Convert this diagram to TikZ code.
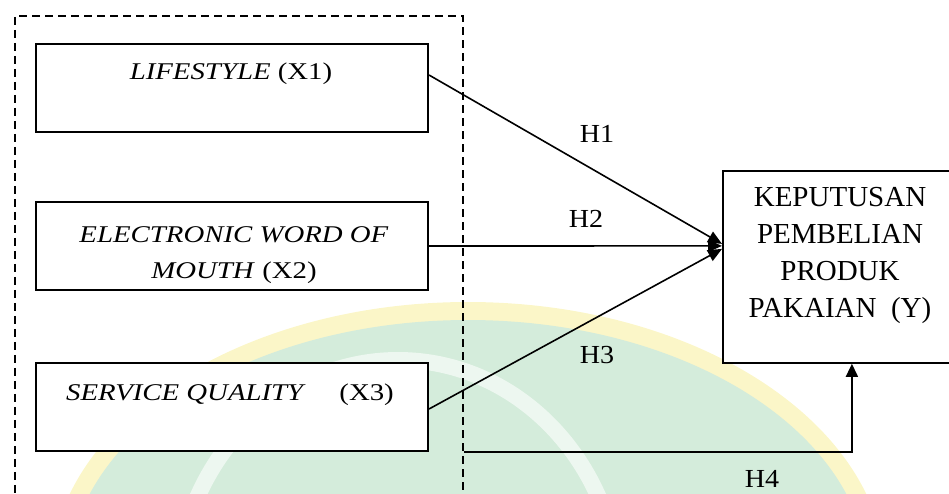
\documentclass[tikz,border=0pt]{standalone}
\usepackage{fontspec}
\usepackage{graphicx}
\setmainfont{Liberation Serif}
\usetikzlibrary{arrows.meta}
\definecolor{wmgreen}{RGB}{212,236,219}
\definecolor{wmyellow}{RGB}{251,246,200}
\begin{document}
\begin{tikzpicture}[x=1pt,y=-1pt,
  box/.style={draw,line width=2pt,fill=white,minimum width=392pt,minimum height=88pt,inner sep=0pt,anchor=north west},
  ybox/.style={draw,line width=1.8pt,fill=white,inner sep=0pt,anchor=north west,minimum width=258pt,minimum height=192pt},
  grpbox/.style={draw,line width=1.6pt,dash pattern=on 8pt off 5pt,inner sep=0pt,anchor=north west,minimum width=448pt,minimum height=520pt},
  conn/.style={line width=1.6pt,-{Triangle[length=14pt,width=12pt]}},
  xtxt/.style={anchor=base,inner sep=0pt,align=center,font=\fontsize{24}{36}\selectfont},
  ytxt/.style={anchor=base,inner sep=0pt,align=center,font=\fontsize{29}{36.7}\selectfont},
  hlab/.style={anchor=base,inner sep=0pt,font=\fontsize{26}{30}\selectfont}]
\useasboundingbox (0,0) rectangle (949,493);
% watermark
\fill[wmyellow] (468,578) ellipse [x radius=418,y radius=276];
\fill[wmgreen] (468,578) ellipse [x radius=400,y radius=258];
\draw[white,opacity=0.6,line width=16pt] (398,600) ellipse [x radius=222,y radius=240];
% group
\node[grpbox] (grp) at (14,15) {};
% boxes
\node[box] (b1) at (35,43) {};
\node[box] (b2) at (35,201) {};
\node[box] (b3) at (35,362) {};
\node[ybox] (by) at (722,170) {};
% texts (base = baseline of last line)
\node[xtxt] (t1) at (231,79) {\scalebox{1.2}[1]{\textit{LIFESTYLE} (X1)}};
\node[xtxt] (t2) at (234,278) {\scalebox{1.2}[1]{\textit{ELECTRONIC WORD OF}}\\\scalebox{1.2}[1]{\textit{MOUTH} (X2)}};
\node[xtxt] (t3) at (230,400) {\scalebox{1.2}[1]{\textit{SERVICE QUALITY}\hspace{28pt}(X3)}};
\node[ytxt] (ty) at (840,317) {KEPUTUSAN\\PEMBELIAN\\PRODUK\\PAKAIAN\ \ (Y)};
% connectors
\draw[conn] ([yshift=13pt]b1.east) -- ([yshift=23pt]by.west);
\draw[conn] (b2.east) -- ([yshift=21pt]by.west);
\draw[conn] ([yshift=-2pt]b3.east) -- ([yshift=18pt]by.west);
\draw[conn,-{Triangle[length=13pt,width=12pt]}] (grp.east |- b3.south) -| (by.south);
% labels
\node[hlab] (h1) at (597,142) {\scalebox{1.08}[1]{H1}};
\node[hlab] (h2) at (586,227) {\scalebox{1.08}[1]{H2}};
\node[hlab] (h3) at (597,363) {\scalebox{1.08}[1]{H3}};
\node[hlab] (h4) at (762,487) {\scalebox{1.08}[1]{H4}};
\end{tikzpicture}
\end{document}
